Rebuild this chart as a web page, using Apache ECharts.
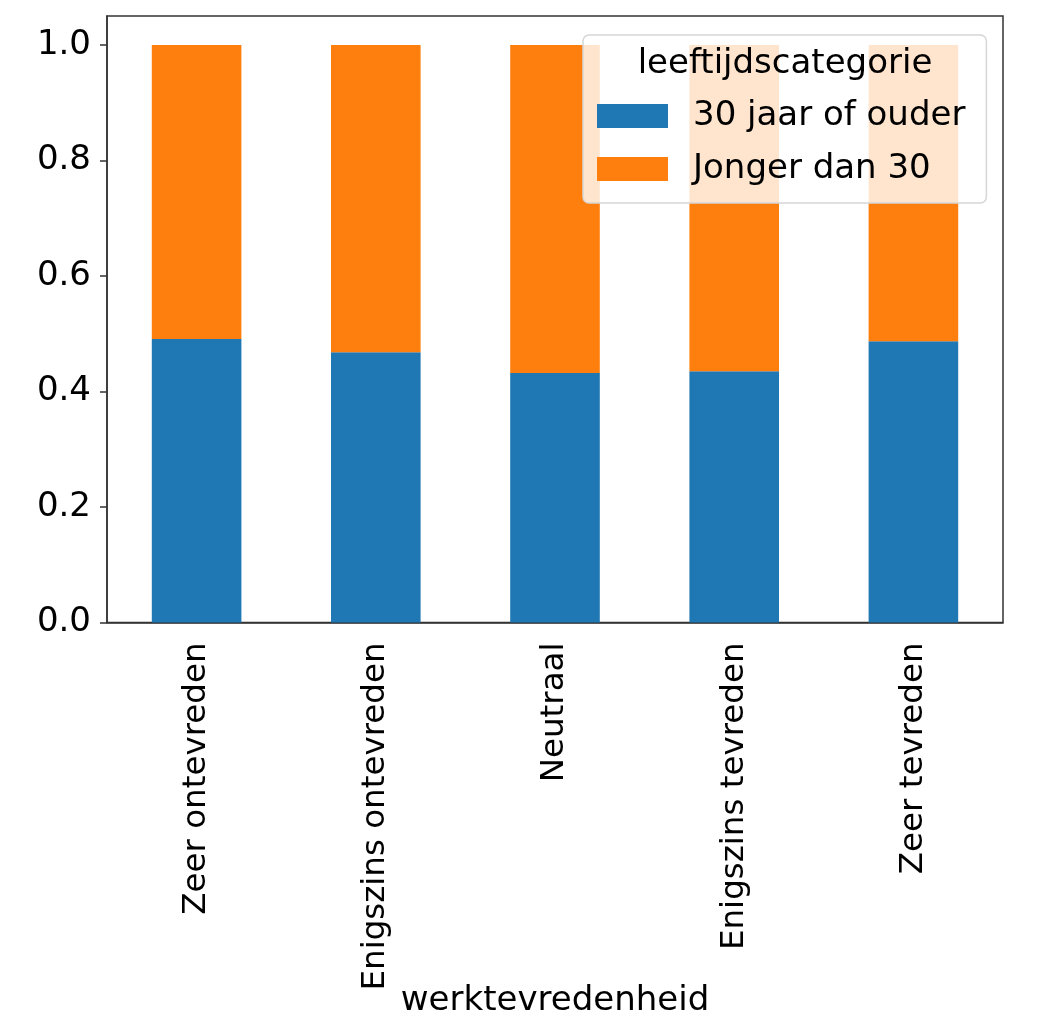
<!DOCTYPE html>
<html lang="nl">

<head>
    <meta charset="UTF-8">
    <title>werktevredenheid per leeftijdscategorie</title>
    <script src="https://cdn.jsdelivr.net/npm/echarts@6/dist/echarts.min.js"></script>
    <style>
        html,
        body {
            margin: 0;
            padding: 0;
            background: #fff;
        }
        #main {
            width: 1040px;
            height: 1024px;
        }
    </style>
</head>

<body>
    <div id="main"></div>
    <script>
        // data
        var categories = ['Zeer ontevreden', 'Enigszins ontevreden', 'Neutraal', 'Enigszins tevreden', 'Zeer tevreden'];
        var ouder = [0.491, 0.468, 0.432, 0.435, 0.487];   // 30 jaar of ouder
        var jonger = [0.509, 0.532, 0.568, 0.565, 0.513];  // Jonger dan 30
        var yTicks = [0, 0.2, 0.4, 0.6, 0.8, 1.0];

        var font = 'DejaVu Sans';
        var axisColor = '#333';

        var myChart = echarts.init(document.getElementById('main'));
        var option = {
            animation: false,
            textStyle: { fontFamily: font },
            grid: {
                left: 107,
                right: 37,
                top: 16,
                bottom: 401.5,
                outerBoundsMode: 'none',
                containLabel: false,
                show: true,
                borderColor: axisColor,
                borderWidth: 1.5,
                backgroundColor: 'transparent'
            },
            legend: {
                left: 583,
                top: 35,
                orient: 'vertical',
                padding: [61, 21, 14, 14],
                itemGap: 13,
                itemWidth: 71,
                itemHeight: 24,
                backgroundColor: 'rgba(255,255,255,0.8)',
                borderColor: '#d6d6d6',
                borderWidth: 1.5,
                borderRadius: 6,
                icon: 'rect',
                textStyle: {
                    fontFamily: font,
                    fontSize: 34,
                    lineHeight: 40,
                    color: '#000',
                    padding: [0, 0, 0, 20]
                },
                data: ['30 jaar of ouder', 'Jonger dan 30']
            },
            graphic: [{
                type: 'text',
                x: 785,
                y: 64,
                z: 100,
                style: {
                    text: 'leeftijdscategorie',
                    fontFamily: font,
                    fontSize: 34,
                    fill: '#000',
                    textAlign: 'center',
                    textVerticalAlign: 'middle'
                }
            }],
            xAxis: {
                type: 'category',
                data: categories,
                name: 'werktevredenheid',
                nameLocation: 'middle',
                nameGap: 362,
                nameMoveOverlap: false,
                nameTextStyle: { fontFamily: font, fontSize: 34, color: '#000' },
                axisLine: { lineStyle: { color: axisColor, width: 1.5 } },
                axisTick: { alignWithLabel: true, length: 7, lineStyle: { color: axisColor, width: 1.5 } },
                axisLabel: {
                    rotate: 90,
                    margin: 20,
                    fontFamily: font,
                    fontSize: 32.5,
                    color: '#000',
                    interval: 0
                }
            },
            yAxis: {
                type: 'value',
                min: 0,
                max: 1.05,
                splitLine: { show: false },
                axisLine: { show: true, lineStyle: { color: axisColor, width: 1.5 } },
                axisTick: { show: true, length: 7, customValues: yTicks, lineStyle: { color: axisColor, width: 1.5 } },
                axisLabel: {
                    customValues: yTicks,
                    margin: 16,
                    fontFamily: font,
                    fontSize: 34,
                    color: '#000',
                    formatter: function (v) { return v.toFixed(1); }
                }
            },
            series: [{
                name: '30 jaar of ouder',
                type: 'bar',
                stack: 'totaal',
                barWidth: '50%',
                data: ouder,
                itemStyle: { color: '#1f77b4' }
            }, {
                name: 'Jonger dan 30',
                type: 'bar',
                stack: 'totaal',
                barWidth: '50%',
                data: jonger,
                itemStyle: { color: '#ff7f0e' }
            }]
        };
        myChart.setOption(option);
    </script>
</body>

</html>
